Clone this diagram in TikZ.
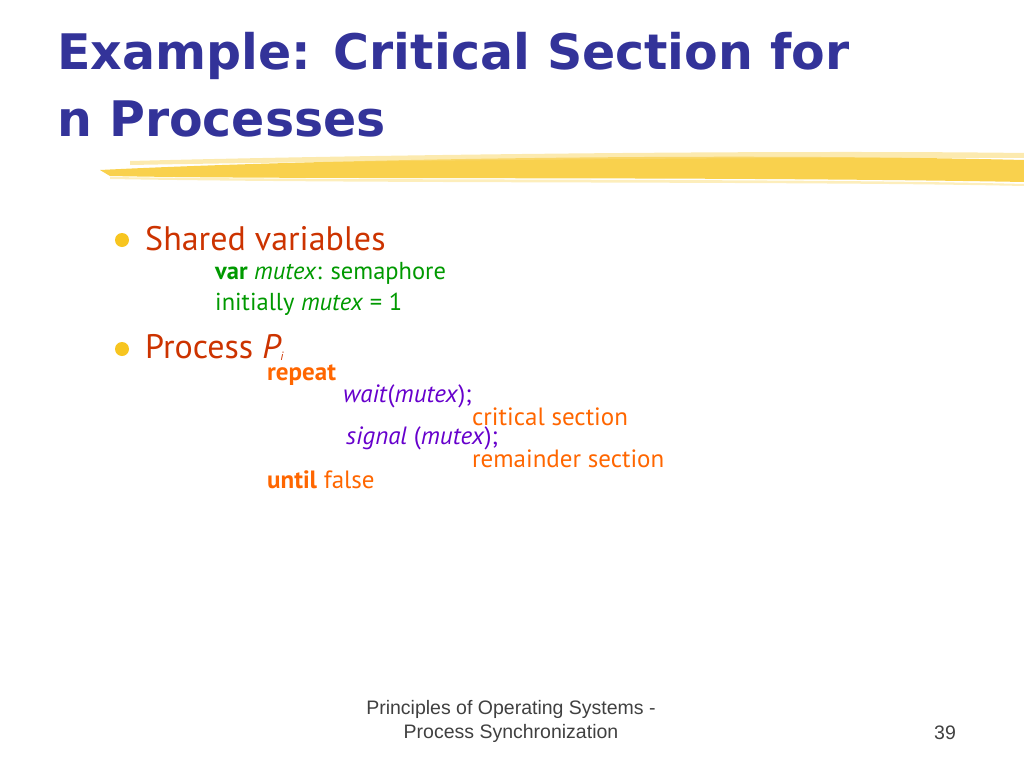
\documentclass[tikz,border=0pt]{standalone}
\usepackage{fontspec}
\setmainfont{DejaVu Sans}
\newfontfamily\titlefont{DejaVu Sans}
\newfontfamily\bodyfont{PT Sans}
\newfontfamily\footfont{Liberation Sans}
\definecolor{ttl}{HTML}{333399}
\definecolor{red}{HTML}{CC3300}
\definecolor{grn}{HTML}{009900}
\definecolor{org}{HTML}{FF6600}
\definecolor{pur}{HTML}{6600CC}
\definecolor{hl}{HTML}{F7C520}
\begin{document}
\begin{tikzpicture}[x=1pt,y=-1pt,
  t/.style={anchor=west,inner sep=0pt},
  b1/.style={t,font=\bodyfont\fontsize{34}{34}\selectfont,text=red},
  b2/.style={t,font=\bodyfont\fontsize{24.5}{24.5}\selectfont,text=grn},
  cd/.style={t,font=\bodyfont\fontsize{25}{25}\selectfont}]
\useasboundingbox (0,0) rectangle (1024,768);
\node[t,font=\titlefont\bfseries\fontsize{49}{49}\selectfont,text=ttl] (t1) at (57,56) {Example: Critical Section for};
\node[t,font=\titlefont\bfseries\fontsize{49}{49}\selectfont,text=ttl] (t2) at (57,119) {n Processes};
\fill[hl,opacity=0.8] (100,170) .. controls (300,160) and (700,152) .. (1024,160) -- (1024,182) .. controls (700,176) and (300,180) .. (110,176) -- cycle;
\fill[hl!60!white,opacity=0.6] (130,161) .. controls (400,154) and (800,150) .. (1024,153) -- (1024,158) .. controls (800,157) and (400,160) .. (130,165) -- cycle;
\fill[hl!50!white,opacity=0.6] (110,177) .. controls (400,181) and (800,178) .. (1024,184) -- (1024,186) .. controls (800,181) and (400,184) .. (110,179) -- cycle;
\fill[hl] (122,240) circle (7);
\fill[hl] (122,349) circle (7);
\node[b1] (s) at (145,239) {Shared variables};
\node[b2] (v1) at (215,273) {\textbf{var} \textit{mutex}: semaphore};
\node[b2] (v2) at (215,304) {initially \textit{mutex} = 1};
\node[b1] (p) at (145,347) {Process \textit{P\raisebox{-2pt}{\fontsize{12}{12}\selectfont i}}};
\node[cd,text=org] (r) at (267,375) {\textbf{repeat}};
\node[cd,text=pur] (w) at (343,396) {\textit{wait}(\textit{mutex});};
\node[cd,text=org] (c) at (472,417) {critical section};
\node[cd,text=pur] (sg) at (346,438) {\textit{signal} (\textit{mutex});};
\node[cd,text=org] (rm) at (472,459) {remainder section};
\node[cd,text=org] (u) at (267,480) {\textbf{until} false};
\node[font=\footfont\fontsize{19.5}{19.5}\selectfont,text=black!75,inner sep=0pt] (f1) at (511,709) {Principles of Operating Systems -};
\node[font=\footfont\fontsize{19.5}{19.5}\selectfont,text=black!75,inner sep=0pt] (f2) at (511,733) {Process Synchronization};
\node[font=\footfont\fontsize{19.5}{19.5}\selectfont,text=black!75,inner sep=0pt] (n) at (945,733) {39};
\end{tikzpicture}
\end{document}
